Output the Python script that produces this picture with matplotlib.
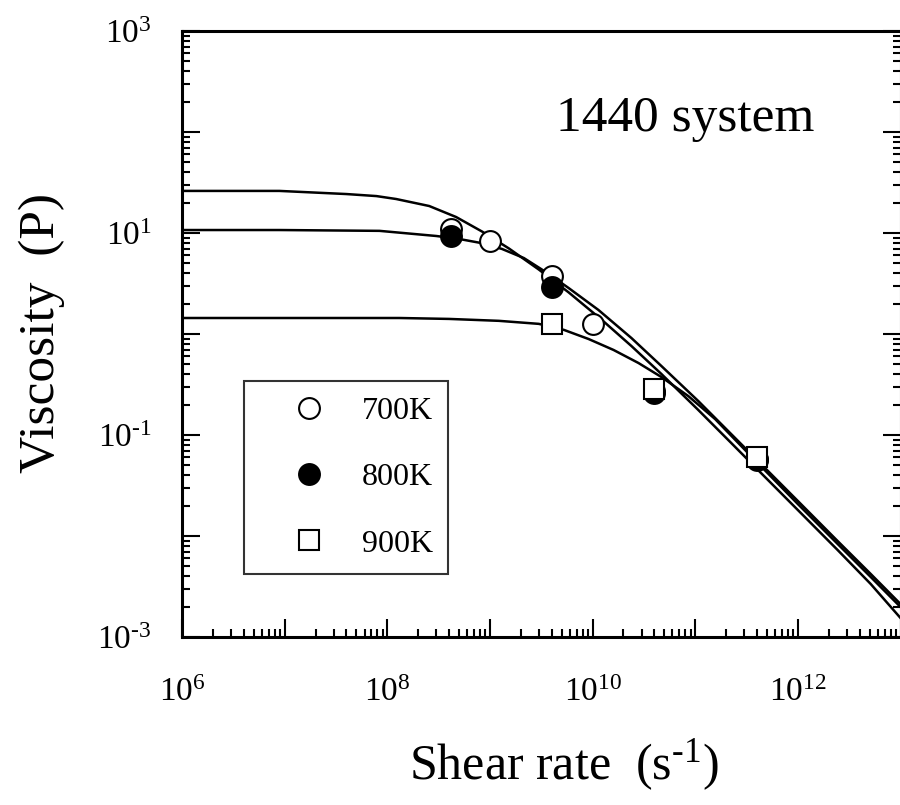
import math
import matplotlib
matplotlib.use("Agg")
import matplotlib.pyplot as plt
from matplotlib.ticker import LogLocator, FuncFormatter, NullFormatter

plt.rcParams['font.family'] = ['Liberation Serif', 'DejaVu Serif']
plt.rcParams['mathtext.fontset'] = 'custom'
plt.rcParams['mathtext.rm'] = 'Liberation Serif'
plt.rcParams['mathtext.it'] = 'Liberation Serif:italic'

# Данные NEMD (скорость сдвига, с^-1 / вязкость, П)
rate_700 = [4.2e8, 1.0e9, 4.0e9, 1.0e10, 4.0e10, 4.0e11]
visc_700 = [11.0, 8.33, 3.75, 1.26, 0.27, 0.058]
rate_800 = [4.2e8, 4.0e9, 4.0e10, 4.0e11]
visc_800 = [9.34, 2.92, 0.26, 0.057]
rate_900 = [4.0e9, 4.0e10, 4.0e11]
visc_900 = [1.26, 0.285, 0.0605]

# Аппроксимирующие кривые
fit_rate_700 = [1e6, 8.9e6, 4.0e7, 7.84e7, 1.22e8, 2.56e8, 4.68e8, 8.36e8, 1.53e9,
                2.99e9, 5.85e9, 1.22e10, 2.39e10, 4.68e10, 1.07e11, 2.24e11,
                4.09e11, 7.48e11, 2.44e12, 5.12e12, 1e13]
fit_visc_700 = [26.1, 26.1, 24.3, 23.2, 21.7, 18.5, 14.4, 10.35, 7.03,
                4.35, 2.58, 1.39, 0.760, 0.402, 0.177, 0.0834,
                0.0450, 0.0243, 0.00726, 0.00335, 0.00154]
fit_rate_800 = [1e6, 8.9e6, 8.4e7, 3.0e8, 5.0e8, 8.18e8, 1.31e9, 2.14e9, 3.50e9,
                5.85e9, 1.14e10, 2.39e10, 4.68e10, 1.07e11, 3.06e11, 1e12,
                2.44e12, 5.12e12, 1e13]
fit_visc_800 = [10.7, 10.7, 10.5, 9.34, 8.73, 7.96, 6.95, 5.65, 4.11,
                2.85, 1.73, 0.912, 0.482, 0.217, 0.0743, 0.0222,
                0.00891, 0.00421, 0.00212]
fit_rate_900 = [1e6, 1.4e7, 1.31e8, 4.0e8, 1.22e9, 2.99e9, 5.23e9, 9.14e9, 1.60e10,
                2.80e10, 4.68e10, 8.55e10, 1.56e11, 3.06e11, 1e12, 2.44e12,
                5.12e12, 1e13]
fit_visc_900 = [1.44, 1.44, 1.44, 1.41, 1.35, 1.26, 1.10, 0.892, 0.695,
                0.516, 0.375, 0.243, 0.144, 0.0710, 0.0207, 0.00834,
                0.00393, 0.00198]

labels = ["700K", "800K", "900K"]

fig = plt.figure(figsize=(9, 8.05), dpi=100)
ax = fig.add_axes([0.2022, 0.2087, 0.7984, 0.7528])

# Кривые
for r, v in [(fit_rate_700, fit_visc_700), (fit_rate_800, fit_visc_800),
             (fit_rate_900, fit_visc_900)]:
    ax.plot(r, v, color='black', lw=1.8, zorder=2)

# Точки
ax.plot(rate_700, visc_700, 'o', ms=15, mfc='white', mec='black', mew=1.5,
        ls='none', label=labels[0], zorder=3)
ax.plot(rate_800, visc_800, 'o', ms=15, mfc='black', mec='black', mew=1.5,
        ls='none', label=labels[1], zorder=4)
ax.plot(rate_900, visc_900, 's', ms=15, mfc='white', mec='black', mew=1.5,
        ls='none', label=labels[2], zorder=5)

ax.set_xscale('log')
ax.set_yscale('log')
ax.set_xlim(1e6, 1e13)
ax.set_ylim(1e-3, 1e3)


def power_label(exp):
    if exp < 0:
        return r'$\mathregular{10^{\text{-}%d}}$' % (-exp)
    return r'$\mathregular{10^{%d}}$' % exp


def x_fmt(val, pos):
    exp = int(round(math.log10(val)))
    if exp % 2 == 0 and 6 <= exp <= 12:
        return power_label(exp)
    return ''


def y_fmt(val, pos):
    exp = int(round(math.log10(val)))
    if exp % 2 != 0 and -3 <= exp <= 3:
        return power_label(exp)
    return ''


for axis in (ax.xaxis, ax.yaxis):
    axis.set_major_locator(LogLocator(base=10, numticks=20))
    axis.set_minor_locator(LogLocator(base=10, subs=range(2, 10), numticks=20))
    axis.set_minor_formatter(NullFormatter())
ax.xaxis.set_major_formatter(FuncFormatter(x_fmt))
ax.yaxis.set_major_formatter(FuncFormatter(y_fmt))

ax.tick_params(which='both', direction='in', top=False, right=True, width=1.5)
ax.tick_params(which='major', length=13, labelsize=24)
ax.tick_params(which='minor', length=6)
ax.tick_params(axis='x', which='major', pad=29)
ax.tick_params(axis='y', which='major', pad=22)
for s in ax.spines.values():
    s.set_linewidth(2.2)

ax.set_xlabel(r'Shear rate  (s$^{\mathregular{\text{-}1}}$)', fontsize=36)
ax.set_ylabel('Viscosity  (P)', fontsize=37)
ax.xaxis.set_label_coords(0.531, -0.165)
ax.yaxis.set_label_coords(-0.163, 0.502)

ax.text(0.70, 0.855, '1440 system', transform=ax.transAxes, fontsize=37,
        ha='center', va='center')

leg = ax.legend(loc='upper left', bbox_to_anchor=(0.0864, 0.4224), fontsize=23,
                frameon=True, fancybox=False, borderpad=0.48, labelspacing=1.16,
                handlelength=3.1, handletextpad=0.1, borderaxespad=0)
leg.get_frame().set_edgecolor('black')
leg.get_frame().set_linewidth(1.5)

fig.savefig('out.png', dpi=100)
